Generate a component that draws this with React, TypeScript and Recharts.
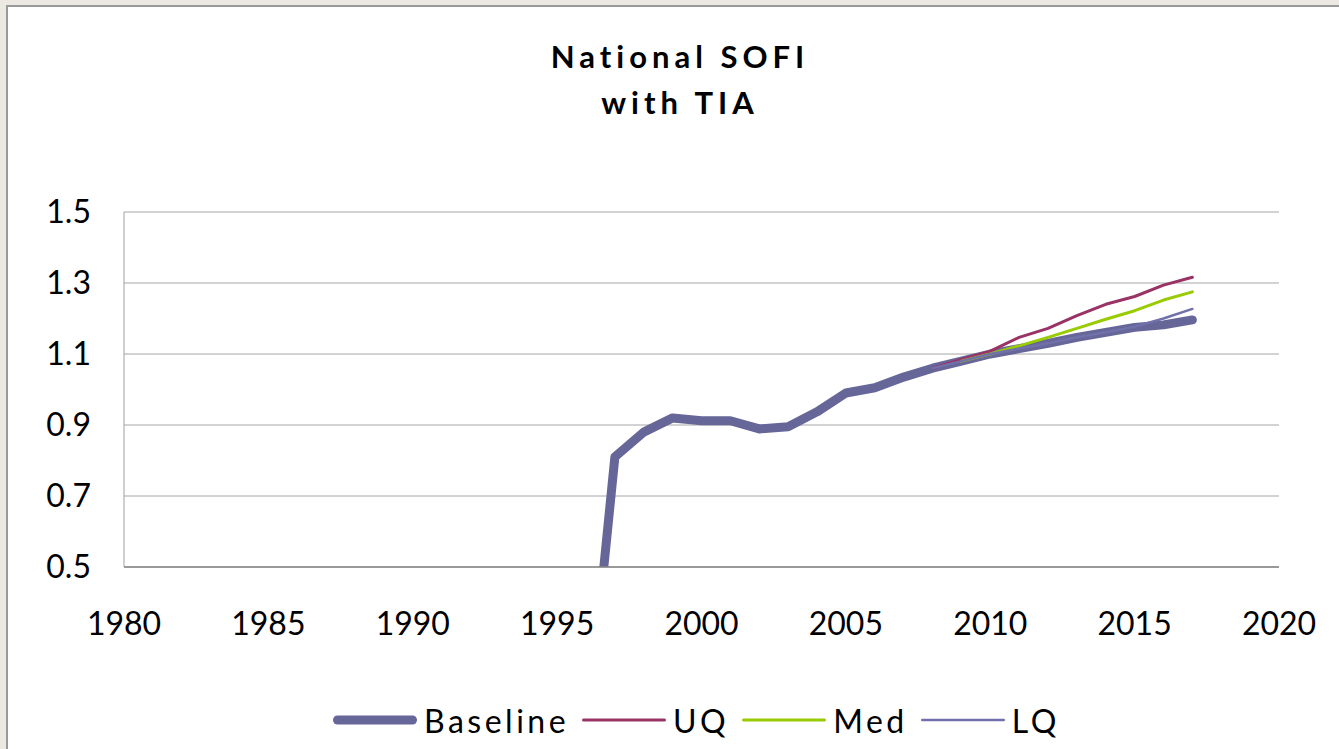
import { LineChart, Line, XAxis, YAxis, CartesianGrid, Legend } from "recharts";

const years = [
  1996, 1997, 1998, 1999, 2000, 2001, 2002, 2003, 2004, 2005, 2006,
  2007, 2008, 2009, 2010, 2011, 2012, 2013, 2014, 2015, 2016, 2017,
];

const baseline = [
  0, 0.81, 0.88, 0.92, 0.912, 0.912, 0.889, 0.895, 0.937, 0.99, 1.005,
  1.035, 1.06, 1.08, 1.1, 1.115, 1.13, 1.147, 1.161, 1.175, 1.182, 1.196,
];

const uq = [
  null, null, null, null, null, null, null, null, null, null, null,
  null, 1.06, 1.085, 1.108, 1.147, 1.172, 1.208, 1.24, 1.262, 1.294, 1.316,
];

const med = [
  null, null, null, null, null, null, null, null, null, null, null,
  null, null, 1.08, 1.1, 1.123, 1.147, 1.172, 1.198, 1.222, 1.252, 1.275,
];

const lq = [
  null, null, null, null, null, null, null, null, null, null, null,
  null, 1.06, 1.08, 1.1, 1.115, 1.13, 1.147, 1.161, 1.177, 1.2, 1.227,
];

const xTicks = [1980, 1985, 1990, 1995, 2000, 2005, 2010, 2015, 2020];
const yTicks = [0.5, 0.7, 0.9, 1.1, 1.3, 1.5];

const series = [
  { key: "Baseline", values: baseline, color: "#666699", width: 9 },
  { key: "UQ", values: uq, color: "#993366", width: 3 },
  { key: "Med", values: med, color: "#99CC00", width: 3 },
  { key: "LQ", values: lq, color: "#7070AA", width: 2.5 },
];

const data = years.map((year, i) => {
  const row: Record<string, number | null> = { year };
  series.forEach((s) => {
    row[s.key] = s.values[i];
  });
  return row;
});

const FONT = "Lato, 'Open Sans', sans-serif";

function LegendContent() {
  return (
    <div
      style={{
        display: "flex",
        alignItems: "center",
        height: 50,
        paddingLeft: 332,
        fontFamily: FONT,
        fontSize: 32,
        letterSpacing: 3.5,
        color: "#000",
      }}
    >
      {series.map((s) => (
        <div key={s.key} style={{ display: "flex", alignItems: "center", marginRight: 12 }}>
          <svg width={86} height={12} style={{ marginRight: 6 }}>
            <line
              x1={s.width / 2 + 1}
              y1={6}
              x2={86 - s.width / 2 - 1}
              y2={6}
              stroke={s.color}
              strokeWidth={s.width}
              strokeLinecap="round"
            />
          </svg>
          <span>{s.key}</span>
        </div>
      ))}
    </div>
  );
}

export default function App() {
  return (
    <div
      style={{
        position: "absolute",
        left: 0,
        top: 0,
        width: 1339,
        height: 749,
        background: "#ECE9E2",
        overflow: "hidden",
      }}
    >
      <div
        style={{
          position: "absolute",
          left: 6,
          top: 5,
          width: 1400,
          height: 800,
          background: "#fff",
          borderTop: "2px solid #999",
          borderLeft: "2px solid #999",
        }}
      />
      <div
        style={{
          position: "absolute",
          left: 0,
          top: 33,
          width: 1360,
          textAlign: "center",
          fontFamily: FONT,
          fontWeight: 700,
          fontSize: 31,
          letterSpacing: 5,
          lineHeight: "46px",
          color: "#000",
        }}
      >
        National SOFI
        <br />
        with TIA
      </div>
      <div style={{ position: "absolute", left: 0, top: 0 }}>
        <LineChart
          width={1339}
          height={749}
          data={data}
          margin={{ top: 212, right: 60, bottom: 4, left: 44 }}
        >
          <CartesianGrid vertical={false} stroke="#A6A6A6" strokeWidth={1} />
          <XAxis
            dataKey="year"
            type="number"
            domain={[1980, 2020]}
            ticks={xTicks}
            height={128}
            tickSize={0}
            tickMargin={45}
            axisLine={{ stroke: "#868686", strokeWidth: 1.5 }}
            tick={{ fill: "#000", fontSize: 32, fontFamily: FONT }}
          />
          <YAxis
            type="number"
            domain={[0.5, 1.5]}
            ticks={yTicks}
            allowDataOverflow
            width={80}
            tickSize={0}
            tickMargin={33}
            tickFormatter={(v: number) => v.toFixed(1)}
            axisLine={{ stroke: "#A0A0A0" }}
            tick={{ fill: "#000", fontSize: 32, fontFamily: FONT }}
          />
          <Legend
            verticalAlign="bottom"
            content={() => <LegendContent />}
            wrapperStyle={{ height: 50, left: 0, width: 1339 }}
          />
          {series.map((s) => (
            <Line
              key={s.key}
              dataKey={s.key}
              type="linear"
              stroke={s.color}
              strokeWidth={s.width}
              strokeLinejoin="round"
              strokeLinecap="round"
              dot={false}
              activeDot={false}
              connectNulls={false}
              isAnimationActive={false}
            />
          ))}
        </LineChart>
      </div>
    </div>
  );
}
